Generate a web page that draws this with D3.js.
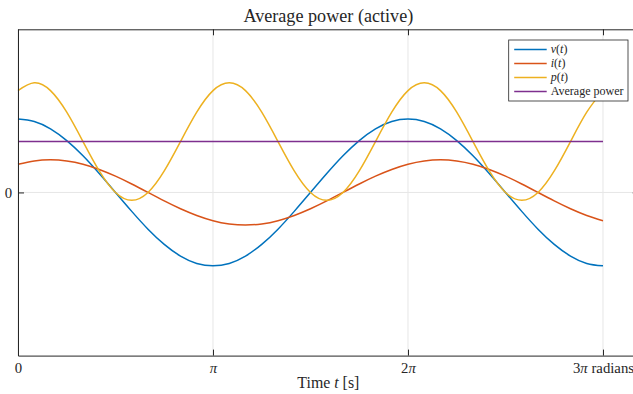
<!DOCTYPE html>
<html>
<head>
<meta charset="utf-8">
<script src="https://cdn.jsdelivr.net/npm/d3@7/dist/d3.min.js"></script>
<style>
  body { margin: 0; background: #fff; }
  svg  { display: block; }
  text { font-family: "Liberation Serif", "DejaVu Serif", serif; fill: #262626; }
</style>
</head>
<body>
<script>

// sample instants, in twelfths of pi (0 .. 3 pi)
var tTwelfths   = [0, 1, 2, 3, 4, 5, 6, 7, 8, 9, 10, 11, 12,
                   13, 14, 15, 16, 17, 18, 19, 20, 21, 22, 23, 24,
                   25, 26, 27, 28, 29, 30, 31, 32, 33, 34, 35, 36];

// values
var vValues     = [0.450, 0.435, 0.390, 0.318, 0.225, 0.116, 0.000, -0.116, -0.225, -0.318, -0.390, -0.435, -0.450,
                   -0.435, -0.390, -0.318, -0.225, -0.116, 0.000, 0.116, 0.225, 0.318, 0.390, 0.435, 0.450,
                   0.435, 0.390, 0.318, 0.225, 0.116, 0.000, -0.116, -0.225, -0.318, -0.390, -0.435, -0.450];
var iValues     = [0.173, 0.193, 0.200, 0.193, 0.173, 0.141, 0.100, 0.052, 0.000, -0.052, -0.100, -0.141, -0.173,
                   -0.193, -0.200, -0.193, -0.173, -0.141, -0.100, -0.052, 0.000, 0.052, 0.100, 0.141, 0.173,
                   0.193, 0.200, 0.193, 0.173, 0.141, 0.100, 0.052, 0.000, -0.052, -0.100, -0.141, -0.173];
var pValues     = [0.624, 0.672, 0.624, 0.492, 0.312, 0.132, 0.000, -0.048, 0.000, 0.132, 0.312, 0.492, 0.624,
                   0.672, 0.624, 0.492, 0.312, 0.132, 0.000, -0.048, 0.000, 0.132, 0.312, 0.492, 0.624,
                   0.672, 0.624, 0.492, 0.312, 0.132, 0.000, -0.048, 0.000, 0.132, 0.312, 0.492, 0.624];
var avgPower    = 0.312;

var xTickValues = [0, Math.PI, 2 * Math.PI, 3 * Math.PI];
var xTickLabels = ["0", "π", "2π", "3π radians"];
var yTickValues = [0];
var yTickLabels = ["0"];

var seriesNames  = ["v", "i", "p", "Average power"];
var seriesColors = ["#0072BD", "#D95319", "#EDB120", "#7E2F8E"];

var width    = 633,
    height   = 394,
    axColor  = "#262626",
    gridCol  = "#e6e6e6";

var plot = { left: 18, top: 29.3, right: 638.7, bottom: 355.6 };

var svg = d3.select("body").append("svg")
    .attr("width",  width)
    .attr("height", height);

var x = d3.scaleLinear().domain([0, 10]).range([plot.left, plot.right]);
var y = d3.scaleLinear().domain([-1, 1]).range([plot.bottom, plot.top]);

// shrink / grow a text's font so it spans the width seen in the picture
function fitWidth(sel, base, target) {
    sel.style("font-size", base + "px");
    var w = sel.node().getComputedTextLength();
    sel.style("font-size", (base * target / w).toFixed(2) + "px");
}

// grid
svg.append("g").selectAll("line")
    .data(xTickValues)
    .enter().append("line")
    .attr("x1", function(d) { return x(d); })
    .attr("x2", function(d) { return x(d); })
    .attr("y1", plot.top)
    .attr("y2", plot.bottom)
    .attr("stroke", gridCol)
    .attr("stroke-width", 1);
svg.append("g").selectAll("line")
    .data(yTickValues)
    .enter().append("line")
    .attr("x1", plot.left)
    .attr("x2", plot.right)
    .attr("y1", function(d) { return y(d); })
    .attr("y2", function(d) { return y(d); })
    .attr("stroke", gridCol)
    .attr("stroke-width", 1);

// curves
var seriesValues = [vValues, iValues, pValues];
var line = d3.line()
    .x(function(d) { return x(d.t); })
    .y(function(d) { return y(d.v); })
    .curve(d3.curveNatural);

seriesValues.forEach(function(vals, s) {
    var pts = tTwelfths.map(function(k, j) { return { t: k * Math.PI / 12, v: vals[j] }; });
    svg.append("path")
        .datum(pts)
        .attr("d", line)
        .attr("fill", "none")
        .attr("stroke", seriesColors[s])
        .attr("stroke-width", 1.5);
});

var avgPts = [{ t: 0, v: avgPower }, { t: 3 * Math.PI, v: avgPower }];
svg.append("path")
    .datum(avgPts)
    .attr("d", d3.line().x(function(d) { return x(d.t); }).y(function(d) { return y(d.v); }))
    .attr("fill", "none")
    .attr("stroke", seriesColors[3])
    .attr("stroke-width", 1.5);

// axes (ticks point inwards, box on)
var xAxis = d3.axisBottom(x)
    .tickValues(xTickValues)
    .tickFormat(function(d, i) { return xTickLabels[i]; })
    .tickSizeInner(-6).tickSizeOuter(0).tickPadding(6.5);
var gx = svg.append("g")
    .attr("transform", "translate(0," + plot.bottom + ")")
    .call(xAxis);

var xTop = d3.axisTop(x)
    .tickValues(xTickValues)
    .tickFormat("")
    .tickSizeInner(-6).tickSizeOuter(0);
var gxt = svg.append("g")
    .attr("transform", "translate(0," + plot.top + ")")
    .call(xTop);

var yAxis = d3.axisLeft(y)
    .tickValues(yTickValues)
    .tickFormat(function(d, i) { return yTickLabels[i]; })
    .tickSizeInner(-6).tickSizeOuter(0).tickPadding(6);
var gy = svg.append("g")
    .attr("transform", "translate(" + plot.left + ",0)")
    .call(yAxis);

var yRight = d3.axisRight(y)
    .tickValues(yTickValues)
    .tickFormat("")
    .tickSizeInner(-6).tickSizeOuter(0);
var gyr = svg.append("g")
    .attr("transform", "translate(" + plot.right + ",0)")
    .call(yRight);

[gx, gxt, gy, gyr].forEach(function(g) {
    g.select(".domain").attr("stroke", axColor).attr("stroke-width", 1);
    g.selectAll(".tick line").attr("stroke", axColor).attr("stroke-width", 1);
    g.selectAll(".tick text")
        .attr("fill", axColor)
        .style("font-family", '"Liberation Serif", serif')
        .style("font-size", "13.5px");
});
gx.selectAll(".tick text").filter(function(d, i) { return i > 0; })
    .each(function(d, i) {
        var t = d3.select(this);
        var label = xTickLabels[i + 1];
        t.text(null);
        var m = label.match(/^(\d*)(π)(.*)$/);
        if (m[1]) t.append("tspan").text(m[1]);
        t.append("tspan").style("font-style", "italic").text(m[2]);
        if (m[3]) t.append("tspan").text(m[3]);
    });
// the last label sets the size for all of them
var lastTick = gx.selectAll(".tick text").filter(function(d, i) { return i === xTickLabels.length - 1; });
fitWidth(lastTick, 13.5, 61);
var tickSize = lastTick.style("font-size");
gx.selectAll(".tick text").style("font-size", tickSize);
gy.selectAll(".tick text").style("font-size", tickSize);

// title
var title = svg.append("text")
    .attr("x", (plot.left + plot.right) / 2)
    .attr("y", 21.5)
    .attr("text-anchor", "middle")
    .text("Average power (active)");
fitWidth(title, 16, 170);

// x label
var xl = svg.append("text")
    .attr("x", (plot.left + plot.right) / 2)
    .attr("y", 387.5)
    .attr("text-anchor", "middle");
xl.append("tspan").text("Time ");
xl.append("tspan").style("font-style", "italic").text("t");
xl.append("tspan").text(" [s]");
fitWidth(xl, 14, 62);

// legend
var lg = { x: 508.7, y: 40, w: 119.3, h: 61 };
var legend = svg.append("g");
legend.append("rect")
    .attr("x", lg.x).attr("y", lg.y)
    .attr("width", lg.w).attr("height", lg.h)
    .attr("fill", "#fff")
    .attr("stroke", axColor)
    .attr("stroke-width", 0.8);

var rowY = d3.scalePoint().domain(d3.range(seriesNames.length)).range([lg.y + 9.5, lg.y + 51.5]);
var legendSize = null;

seriesNames.forEach(function(name, s) {
    var yy = rowY(s);
    legend.append("line")
        .attr("x1", lg.x + 5.5).attr("x2", lg.x + 38)
        .attr("y1", yy).attr("y2", yy)
        .attr("stroke", seriesColors[s])
        .attr("stroke-width", 1.5);
    var t = legend.append("text")
        .attr("class", "lgtext")
        .attr("x", lg.x + 42)
        .attr("y", yy + 3.8);
    if (s < 3) {
        t.append("tspan").style("font-style", "italic").text(name);
        t.append("tspan").text("(");
        t.append("tspan").style("font-style", "italic").text("t");
        t.append("tspan").text(")");
    } else {
        t.text(name);
        fitWidth(t, 11.5, 73);
        legendSize = t.style("font-size");
    }
});
legend.selectAll(".lgtext").style("font-size", legendSize);

</script>
</body>
</html>
